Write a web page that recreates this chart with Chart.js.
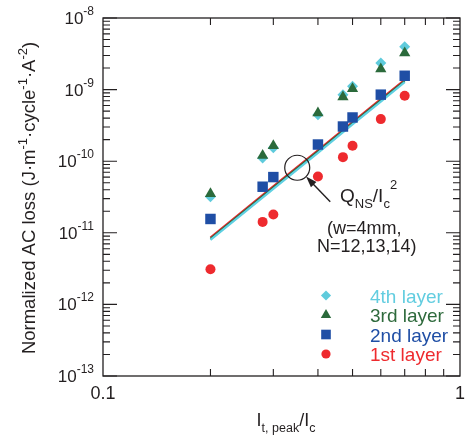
<!DOCTYPE html>
<html>
<head>
<meta charset="utf-8">
<script src="https://cdn.jsdelivr.net/npm/chart.js@4/dist/chart.umd.min.js"></script>
<style>
  html, body { margin: 0; padding: 0; background: #fff; }
  #wrap { width: 469px; height: 437px; position: relative; }
</style>
</head>
<body>
<div id="wrap"><canvas id="chart-acloss" width="469" height="437"></canvas></div>
<script>
// Medidas por camada: corrente normalizada x perda AC normalizada
const currentRatio = [0.2, 0.28, 0.3, 0.4, 0.47, 0.5, 0.6, 0.7];
const loss4th = [3.2e-11, 1.11e-10, 1.54e-10, 4.45e-10, 8.5e-10, 1.11e-9, 2.35e-9, 3.97e-9];
const loss3rd = [3.5e-11, 1.2e-10, 1.64e-10, 4.7e-10, 7.9e-10, 1.03e-9, 1.94e-9, 3.24e-9];
const loss2nd = [1.56e-11, 4.4e-11, 6.0e-11, 1.71e-10, 3.05e-10, 4.08e-10, 8.5e-10, 1.56e-9];
const loss1st = [3.1e-12, 1.42e-11, 1.8e-11, 6.1e-11, 1.14e-10, 1.64e-10, 3.87e-10, 8.2e-10];

// Curvas Q_NS/Ic^2 (w=4mm, N=12,13,14)
const curveX = [0.2, 0.3, 0.4, 0.5, 0.6, 0.7];
const curveN12 = [7.95e-12, 4.12e-11, 1.31e-10, 3.26e-10, 6.81e-10, 1.27e-9];
const curveN13 = [8.25e-12, 4.27e-11, 1.36e-10, 3.38e-10, 7.07e-10, 1.31e-9];
const curveN14 = [8.6e-12, 4.45e-11, 1.42e-10, 3.52e-10, 7.36e-10, 1.37e-9];

// Eixos
const yDecades = [1e-13, 1e-12, 1e-11, 1e-10, 1e-9, 1e-8];
const yExponents = ['-13', '-12', '-11', '-10', '-9', '-8'];
const xLabelValues = [0.1, 1];
const xLabels = ['0.1', '1'];
const xMinorTicks = [0.2, 0.3, 0.4, 0.5, 0.6, 0.7, 0.8, 0.9];

// Legenda e anotação
const layerNames = ['4th layer', '3rd layer', '2nd layer', '1st layer'];
const circleAt = { x: 0.35, y: 8.1e-11 };

const FONT = "'Liberation Sans', Arial, Helvetica, sans-serif";
const INK = '#231f20';

const layerStyles = [
  { color: '#5fcbdc', text: '#62cde0', pointStyle: 'rectRot', radius: 5.5 },
  { color: '#2b6a3b', text: '#2e6a3c', pointStyle: 'triangle', radius: 6.5 },
  { color: '#1f4ea5', text: '#1f4ea5', pointStyle: 'rect', radius: 7.4 },
  { color: '#ee2a2e', text: '#ee2a2e', pointStyle: 'circle', radius: 5 }
];
const layerData = [loss4th, loss3rd, loss2nd, loss1st];

const toPoints = (xs, ys) => xs.map((x, i) => ({ x: x, y: ys[i] }));

/**
 * Escreve uma sequência de trechos (normal / sobrescrito / subscrito)
 */
function drawRuns(ctx, runs, x, y, align) {
  let total = 0;
  runs.forEach(r => {
    ctx.font = r.size + 'px ' + FONT;
    r.w = ctx.measureText(r.t).width;
    total += r.w;
  });
  let cx = align === 'right' ? x - total : align === 'center' ? x - total / 2 : x;
  runs.forEach(r => {
    ctx.font = r.size + 'px ' + FONT;
    ctx.fillText(r.t, cx, y + (r.dy || 0));
    cx += r.w;
  });
}

const framePlugin = {
  id: 'frame',
  afterDraw(chart) {
    const ctx = chart.ctx;
    const a = chart.chartArea;
    const xs = chart.scales.x;
    const ys = chart.scales.y;

    ctx.save();
    ctx.strokeStyle = INK;
    ctx.fillStyle = INK;
    ctx.lineWidth = 1.3;
    ctx.strokeRect(a.left, a.top, a.right - a.left, a.bottom - a.top);

    // Marcas do eixo y (dentro, dos dois lados)
    ctx.lineWidth = 1.1;
    ctx.beginPath();
    yDecades.forEach((d, i) => {
      const py = ys.getPixelForValue(d);
      ctx.moveTo(a.left, py); ctx.lineTo(a.left + 14, py);
      ctx.moveTo(a.right, py); ctx.lineTo(a.right - 14, py);
      if (i < yDecades.length - 1) {
        for (let m = 2; m <= 9; m++) {
          const pm = ys.getPixelForValue(d * m);
          ctx.moveTo(a.left, pm); ctx.lineTo(a.left + 7, pm);
          ctx.moveTo(a.right, pm); ctx.lineTo(a.right - 7, pm);
        }
      }
    });
    // Marcas do eixo x (em cima e embaixo)
    xMinorTicks.forEach(v => {
      const px = xs.getPixelForValue(v);
      ctx.moveTo(px, a.bottom); ctx.lineTo(px, a.bottom - 7);
      ctx.moveTo(px, a.top); ctx.lineTo(px, a.top + 7);
    });
    ctx.stroke();

    // Rótulos 10^n
    ctx.textBaseline = 'alphabetic';
    yDecades.forEach((d, i) => {
      const py = ys.getPixelForValue(d);
      drawRuns(ctx, [
        { t: '10', size: 17 },
        { t: yExponents[i], size: 12, dy: -9 }
      ], a.left - 9, py + 6, 'right');
    });
    ctx.textAlign = 'center';
    ctx.font = '18px ' + FONT;
    xLabelValues.forEach((v, i) => {
      ctx.fillText(xLabels[i], xs.getPixelForValue(v), a.bottom + 23);
    });
    ctx.textAlign = 'left';

    // Título do eixo x
    drawRuns(ctx, [
      { t: 'I', size: 18 },
      { t: 't, peak', size: 12.5, dy: 6 },
      { t: '/I', size: 18 },
      { t: 'c', size: 12.5, dy: 6 }
    ], 286, 426, 'center');

    // Título do eixo y
    ctx.save();
    ctx.translate(35, 198);
    ctx.rotate(-Math.PI / 2);
    drawRuns(ctx, [
      { t: 'Normalized AC loss (J\u00b7m', size: 18.5 },
      { t: '-1', size: 13, dy: -8 },
      { t: '\u00b7cycle', size: 18.5 },
      { t: '-1', size: 13, dy: -8 },
      { t: '\u00b7A', size: 18.5 },
      { t: '-2', size: 13, dy: -8 },
      { t: ')', size: 18.5 }
    ], 0, 0, 'center');
    ctx.restore();

    // Círculo + seta sobre as curvas
    const cx = xs.getPixelForValue(circleAt.x);
    const cy = ys.getPixelForValue(circleAt.y);
    const r = 12.5;
    ctx.lineWidth = 1.2;
    ctx.beginPath();
    ctx.arc(cx, cy, r, 0, Math.PI * 2);
    ctx.stroke();
    const tipX = cx + r * Math.SQRT1_2, tipY = cy + r * Math.SQRT1_2;
    const tailX = cx + 33, tailY = cy + 34;
    const ang = Math.atan2(tipY - tailY, tipX - tailX);
    ctx.lineWidth = 1.4;
    ctx.beginPath();
    ctx.moveTo(tailX, tailY);
    ctx.lineTo(tipX - 6 * Math.cos(ang), tipY - 6 * Math.sin(ang));
    ctx.stroke();
    ctx.beginPath();
    ctx.moveTo(tipX, tipY);
    ctx.lineTo(tipX - 11 * Math.cos(ang) + 3.8 * Math.sin(ang), tipY - 11 * Math.sin(ang) - 3.8 * Math.cos(ang));
    ctx.lineTo(tipX - 11 * Math.cos(ang) - 3.8 * Math.sin(ang), tipY - 11 * Math.sin(ang) + 3.8 * Math.cos(ang));
    ctx.closePath();
    ctx.fill();

    drawRuns(ctx, [
      { t: 'Q', size: 19 },
      { t: 'NS', size: 13, dy: 6 },
      { t: '/I', size: 19 },
      { t: 'c', size: 13, dy: 6 },
      { t: '2', size: 13, dy: -13 }
    ], 340, 202, 'left');
    ctx.font = '18px ' + FONT;
    ctx.fillText('(w=4mm,', 327, 234);
    ctx.fillText('N=12,13,14)', 317, 252);

    // Legenda
    const legendRows = [295.5, 315, 334.5, 354];
    layerNames.forEach((name, i) => {
      const st = layerStyles[i];
      ctx.fillStyle = st.color;
      Chart.helpers.drawPoint(ctx, {
        pointStyle: st.pointStyle, radius: st.radius * 0.92, rotation: 0, borderWidth: 0
      }, 326, legendRows[i]);
      ctx.fillStyle = st.text;
      ctx.font = '19px ' + FONT;
      ctx.fillText(name, 370, legendRows[i] + 7);
    });

    ctx.restore();
  }
};

const curveDataset = (ys, color) => ({
  data: toPoints(curveX, ys),
  showLine: true,
  borderColor: color,
  borderWidth: 2.2,
  pointRadius: 0,
  fill: false,
  order: 10
});

const datasets = [
  curveDataset(curveN12, '#5fd0e2'),
  curveDataset(curveN13, '#2b6a3b'),
  curveDataset(curveN14, '#e8262c')
];
layerData.forEach((ys, i) => {
  const st = layerStyles[i];
  datasets.push({
    label: layerNames[i],
    data: toPoints(currentRatio, ys),
    pointStyle: st.pointStyle,
    pointRadius: st.radius,
    pointBackgroundColor: st.color,
    pointBorderWidth: 0,
    showLine: false,
    order: 4 - i
  });
});

new Chart(document.getElementById('chart-acloss'), {
  type: 'scatter',
  data: { datasets: datasets },
  options: {
    responsive: false,
    animation: false,
    events: [],
    layout: { padding: { left: 103, top: 18, right: 9, bottom: 61 } },
    plugins: { legend: { display: false }, tooltip: { enabled: false } },
    scales: {
      x: { type: 'logarithmic', min: 0.1, max: 1, display: false },
      y: { type: 'logarithmic', min: 1e-13, max: 1e-8, display: false }
    }
  },
  plugins: [framePlugin]
});
</script>
</body>
</html>
